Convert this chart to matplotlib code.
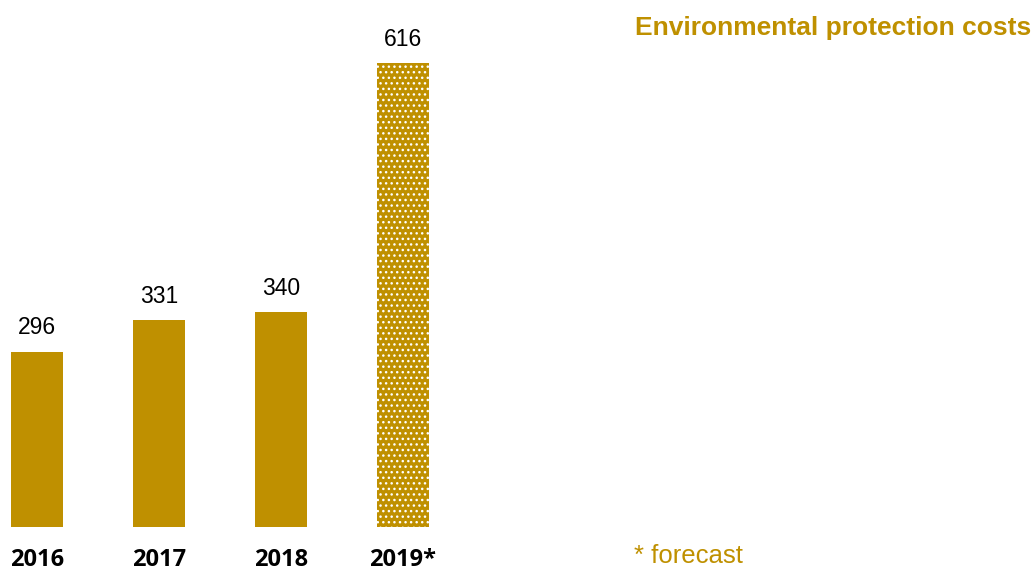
import matplotlib
matplotlib.use("Agg")
import matplotlib.pyplot as plt

years = ["2016", "2017", "2018", "2019*"]
values = [296, 331, 340, 616]
forecast = [False, False, False, True]
title = "Environmental protection costs"
note = "* forecast"

gold = "#BF9000"
plt.rcParams["hatch.linewidth"] = 1.0

fig = plt.figure(figsize=(10.35, 5.71), dpi=100)
ax = fig.add_axes([0.0, 1 - 527 / 571, 464 / 1035, 527 / 571])
x = list(range(len(years)))
for xi, v, f in zip(x, values, forecast):
    if f:
        ax.bar(xi, v, width=0.426, color=gold, edgecolor="white", linewidth=0, hatch="...")
    else:
        ax.bar(xi, v, width=0.426, color=gold, linewidth=0)
    ax.annotate(str(v), (xi, v), xytext=(0, 9), textcoords="offset points",
                ha="center", va="bottom", fontsize=16.5, family="Liberation Sans", color="black")
ax.set_xlim(-0.3, 3.5)
ax.set_ylim(102, 686)
ax.axis("off")

for xi, lab in zip(x, years):
    ax.text(xi, -33 / 527, lab, transform=ax.get_xaxis_transform(), ha="center", va="center",
            fontsize=17, fontweight="bold", family="Open Sans", color="black")

fig.text(1031 / 1035, 1 - 28 / 571, title, ha="right", va="center", fontsize=19,
         fontweight="bold", family="Liberation Sans", color=gold)
fig.text(634 / 1035, 1 - 556 / 571, note, ha="left", va="center", fontsize=18.5,
         family="Liberation Sans", color=gold)

fig.savefig("out.png", dpi=100)
